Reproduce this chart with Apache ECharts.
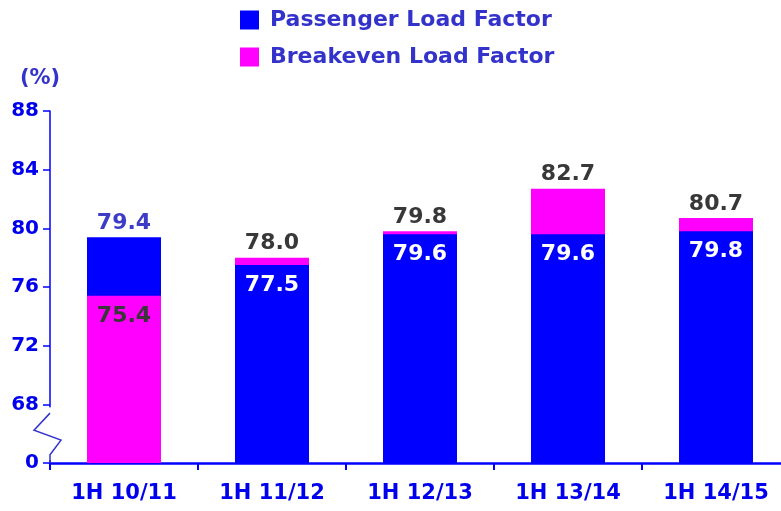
<!DOCTYPE html>
<html>
<head>
<meta charset="utf-8">
<script src="https://cdn.jsdelivr.net/npm/echarts@6/dist/echarts.min.js"></script>
<style>
  html, body { margin: 0; padding: 0; background: #fff; overflow: hidden; }
  /* the last category runs a little past the right edge in the reference */
  #main { width: 790px; height: 511px; }
</style>
</head>
<body>
<div id="main"></div>
<script>
// data
var categories = ['1H 10/11', '1H 11/12', '1H 12/13', '1H 13/14', '1H 14/15'];
var passenger = [79.4, 77.5, 79.6, 79.6, 79.8];
var breakeven = [75.4, 78.0, 79.8, 82.7, 80.7];
var yTicks = [64, 68, 72, 76, 80, 84, 88]; // 64 is shown as "0" (broken axis)

var BLUE = '#0000ff', PINK = '#ff00ff', TXT = '#3333cc', AXIS = '#0000ee', DARK = '#383838';
var FONT = 'DejaVu Sans';

function lbl(pos, color) {
    return { show: true, position: pos, distance: pos == 'top' ? 3 : 9, color: color,
        fontFamily: FONT, fontWeight: 'bold', fontSize: 22,
        formatter: function (p) { return p.value.toFixed(1); } };
}

// pink behind blue where it is taller, in front where it is shorter
var pinkBack = [], pinkFront = [], blueData = [];
for (var i = 0; i < categories.length; i++) {
    var pTop = breakeven[i] > passenger[i];
    pinkBack.push(pTop ? { value: breakeven[i], label: lbl('top', DARK) } : '-');
    pinkFront.push(pTop ? '-' : { value: breakeven[i], label: lbl('insideTop', DARK) });
    blueData.push(pTop ? { value: passenger[i], label: lbl('insideTop', '#ffffff') }
                       : { value: passenger[i], label: lbl('top', '#3c3cc8') });
}

var chart = echarts.init(document.getElementById('main'));
var option = {
    animation: false,
    backgroundColor: '#fff',
    textStyle: { fontFamily: FONT },
    legend: {
        data: ['Passenger Load Factor', 'Breakeven Load Factor'],
        orient: 'vertical',
        left: 235, top: 4,
        itemWidth: 19, itemHeight: 19, itemGap: 15,
        icon: 'rect',
        textStyle: { color: TXT, fontSize: 22, fontWeight: 'bold', fontFamily: FONT, padding: [0, 0, 0, 6] }
    },
    grid: { left: 50, right: 0, top: 111, bottom: 48 },
    xAxis: {
        type: 'category',
        data: categories,
        axisLine: { lineStyle: { color: BLUE, width: 2.5 } },
        axisTick: { show: true, length: 7, lineStyle: { color: BLUE, width: 2 } },
        axisLabel: { color: AXIS, fontSize: 21, fontWeight: 'bold', margin: 20, fontFamily: FONT }
    },
    yAxis: {
        type: 'value',
        min: yTicks[0], max: yTicks[yTicks.length - 1], interval: 4,
        name: '(%)',
        nameLocation: 'end',
        nameGap: 22,
        nameTextStyle: { color: TXT, fontSize: 21, fontWeight: 'bold', align: 'center', padding: [0, 20, 0, 0] },
        axisLine: { show: true, lineStyle: { color: BLUE, width: 1.5 } },
        axisTick: { show: true, length: 7, lineStyle: { color: BLUE, width: 1.5 } },
        splitLine: { show: false },
        axisLabel: {
            color: AXIS, fontSize: 20, fontWeight: 'bold', margin: 11, fontFamily: FONT,
            formatter: function (v) { return v == yTicks[0] ? '0' : String(v); }
        }
    },
    series: [
        { name: 'Breakeven Load Factor', type: 'bar', data: pinkBack, barWidth: '50%', barGap: '-100%', itemStyle: { color: PINK } },
        { name: 'Passenger Load Factor', type: 'bar', data: blueData, barWidth: '50%', barGap: '-100%', itemStyle: { color: BLUE } },
        { name: 'Breakeven Load Factor', type: 'bar', data: pinkFront, barWidth: '50%', barGap: '-100%', itemStyle: { color: PINK } }
    ]
};
chart.setOption(option);

// axis break mark between "0" and 68
var p68 = chart.convertToPixel({ yAxisIndex: 0 }, 68);
var p0 = chart.convertToPixel({ yAxisIndex: 0 }, yTicks[0]);
var ax = 50;
var h = p0 - p68;
chart.setOption({
    graphic: [
        { type: 'rect', shape: { x: ax - 3, y: p68 + 3, width: 6, height: h - 6 }, style: { fill: '#fff' }, z: 100 },
        { type: 'polyline', z: 101, shape: { points: [
            [ax, p68 + h * 0.15], [ax - 16, p68 + h * 0.44], [ax + 11, p68 + h * 0.61], [ax, p68 + h * 0.86], [ax, p0]
        ] }, style: { stroke: '#3333cc', lineWidth: 1.5, fill: null } }
    ]
});
</script>
</body>
</html>
